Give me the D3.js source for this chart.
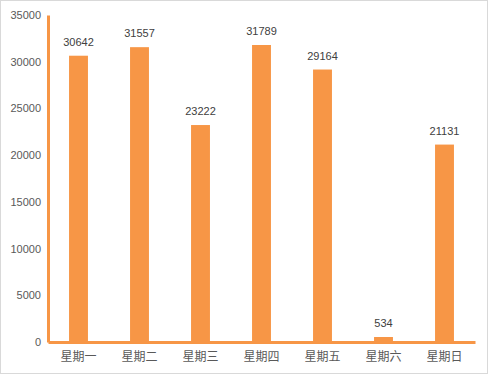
<!DOCTYPE html>
<html>
<head>
<meta charset="utf-8">
<script src="https://cdn.jsdelivr.net/npm/d3@7"></script>
<style>
  body { margin: 0; background: #fff; }
  svg { display: block; }
</style>
</head>
<body>
<div id="chart"></div>
<script>
// Data
const days = ["星期一", "星期二", "星期三", "星期四", "星期五", "星期六", "星期日"];
const counts = [30642, 31557, 23222, 31789, 29164, 534, 21131];
const yTicks = [0, 5000, 10000, 15000, 20000, 25000, 30000, 35000];

const width = 490;
const height = 375;
const margin = {top: 15, right: 15, bottom: 33, left: 48};
const orange = "#F79646";

const svg = d3.select("#chart")
    .append("svg")
    .attr("width", width)
    .attr("height", height);

// Outer frame
svg.append("rect")
    .attr("x", 0.5)
    .attr("y", 0.5)
    .attr("width", width - 3)
    .attr("height", height - 2)
    .attr("fill", "#fff")
    .attr("stroke", "#d9d9d9");

const x = d3.scaleBand()
    .domain(days)
    .range([margin.left, width - margin.right])
    .paddingInner(0.69)
    .paddingOuter(0.345);

const y = d3.scaleLinear()
    .domain([0, 35000])
    .range([height - margin.bottom, margin.top]);

// Bars
svg.selectAll(".bar")
    .data(counts)
    .enter()
    .append("rect")
    .attr("class", "bar")
    .attr("x", (d, i) => x(days[i]))
    .attr("y", d => y(d))
    .attr("width", x.bandwidth())
    .attr("height", d => y(0) - y(d))
    .attr("fill", orange);

// Value labels
svg.selectAll(".val")
    .data(counts)
    .enter()
    .append("text")
    .attr("class", "val")
    .attr("x", (d, i) => x(days[i]) + x.bandwidth() / 2)
    .attr("y", d => y(d) - 10)
    .attr("text-anchor", "middle")
    .attr("font-family", "Liberation Sans, Arial, sans-serif")
    .attr("font-size", 11)
    .attr("fill", "#404040")
    .text(d => d);

// Y axis
const yAxis = svg.append("g")
    .attr("transform", `translate(${margin.left},0)`)
    .call(d3.axisLeft(y).tickValues(yTicks).tickFormat(d3.format("d")).tickSize(0).tickPadding(7));
yAxis.select(".domain")
    .attr("stroke", orange)
    .attr("stroke-width", 3);
yAxis.selectAll("text")
    .attr("font-family", "Liberation Sans, Arial, sans-serif")
    .attr("font-size", 11)
    .attr("fill", "#595959");

// X axis
const xAxis = svg.append("g")
    .attr("transform", `translate(0,${y(0)})`)
    .call(d3.axisBottom(x).tickSize(0).tickPadding(10));
xAxis.select(".domain")
    .attr("stroke", orange)
    .attr("stroke-width", 3);
xAxis.selectAll("text")
    .attr("font-family", "Noto Sans CJK SC, sans-serif")
    .attr("font-size", 12)
    .attr("fill", "#595959");
</script>
</body>
</html>
